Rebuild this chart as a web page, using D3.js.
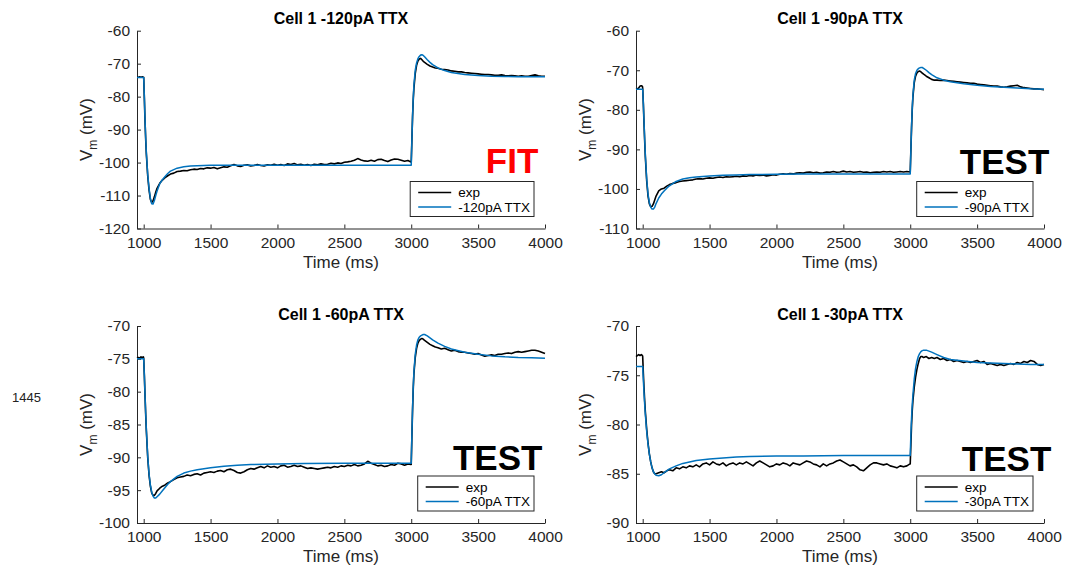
<!DOCTYPE html>
<html><head><meta charset="utf-8">
<script src="https://cdn.jsdelivr.net/npm/d3@7"></script>
<style>
html,body{margin:0;padding:0;background:#fff;}
svg{display:block;font-family:"Liberation Sans",Arial,Helvetica,sans-serif;}
</style></head>
<body>
<svg id="chart" width="1069" height="567"></svg>
<script>
// ---------- DATA ----------
const xTicks = [1000, 1500, 2000, 2500, 3000, 3500, 4000];
const xDomain = [950, 4000];
const yTicks120 = [-120, -110, -100, -90, -80, -70, -60];
const yTicks90 = [-110, -100, -90, -80, -70, -60];
const yTicks60 = [-100, -95, -90, -85, -80, -75, -70];
const yTicks30 = [-90, -85, -80, -75, -70];

const titles = ["Cell 1 -120pA TTX", "Cell 1 -90pA TTX", "Cell 1 -60pA TTX", "Cell 1 -30pA TTX"];
const seriesNames = ["-120pA TTX", "-90pA TTX", "-60pA TTX", "-30pA TTX"];
const tags = ["FIT", "TEST", "TEST", "TEST"];
const sideNote = "1445";

// time samples (ms) of the experimental traces
const tExp = [
 950, 960, 970, 980, 990, 998,
 1000, 1005, 1010, 1015, 1020, 1030, 1040, 1050, 1060, 1070, 1080, 1090, 1100, 1120, 1140, 1160, 1180,
 1200, 1225, 1250, 1275, 1300, 1325, 1350, 1375, 1400, 1425, 1450, 1475, 1500, 1525, 1550, 1575,
 1600, 1625, 1650, 1675, 1700, 1725, 1750, 1775, 1800, 1825, 1850, 1875, 1900, 1925, 1950, 1975,
 2000, 2025, 2050, 2075, 2100, 2125, 2150, 2175, 2200, 2225, 2250, 2275, 2300, 2325, 2350, 2375,
 2400, 2425, 2450, 2475, 2500, 2525, 2550, 2575, 2600, 2625, 2650, 2675, 2700, 2725, 2750, 2775,
 2800, 2825, 2850, 2875, 2900, 2925, 2950, 2975, 2998,
 3000, 3005, 3010, 3015, 3020, 3030, 3040, 3050, 3060, 3070, 3080, 3090, 3100, 3120, 3140, 3160, 3180,
 3200, 3225, 3250, 3275, 3300, 3325, 3350, 3375, 3400, 3425, 3450, 3475, 3500, 3525, 3550, 3575,
 3600, 3625, 3650, 3675, 3700, 3725, 3750, 3775, 3800, 3825, 3850, 3875, 3900, 3925, 3950, 3975, 4000
];

// time samples (ms) of the model traces
const tFit = [
 950, 998, 1000, 1005, 1010, 1015, 1020, 1030, 1040, 1050, 1060, 1070, 1080, 1090, 1100,
 1120, 1140, 1160, 1180, 1200, 1250, 1300, 1350, 1400, 1500, 1600, 1700, 1800,
 2000, 2200, 2500, 2800, 2998,
 3000, 3005, 3010, 3015, 3020, 3030, 3040, 3050, 3060, 3070, 3080, 3090, 3100,
 3120, 3140, 3160, 3200, 3250, 3300, 3400, 3500, 3600, 3700, 3800, 3900, 4000
];

// ---- -120 pA ----
const exp120 = [
 -74.1, -74.1, -74.0, -74.1, -74.0, -74.1,
 -74.1, -80.5, -87.5, -93.0, -97.5, -104.0, -108.3, -111.2, -112.1, -111.6, -110.4, -109.0, -107.8, -106.3, -105.3, -104.6, -104.0,
 -103.5, -103.2, -102.7, -102.6, -102.4, -102.5, -102.2, -102.0, -102.1, -101.8, -101.9, -101.6, -101.7, -101.5, -101.9, -101.6,
 -101.3, -101.4, -101.0, -100.6, -101.0, -101.2, -100.8, -100.7, -101.0, -100.9, -100.6, -100.9, -101.0, -100.7, -100.8, -100.5,
 -100.8, -100.6, -100.9, -100.4, -100.6, -100.3, -100.7, -100.5, -100.8, -100.6, -100.9, -100.5, -100.7, -100.4, -100.6, -100.5,
 -100.2, -100.4, -100.1, -100.3, -99.9, -99.8, -99.6, -99.3, -98.8, -99.2, -99.5, -99.6, -99.3, -99.6, -99.1, -99.0,
 -99.4, -99.7, -99.2, -98.9, -99.0, -99.3, -99.6, -99.4, -99.8,
 -99.8, -93.0, -86.0, -81.0, -77.5, -73.0, -70.5, -69.2, -68.6, -68.4, -68.8, -69.3, -69.6, -70.2, -70.7, -71.0, -71.3,
 -71.4, -71.7, -71.8, -71.9, -72.2, -72.3, -72.5, -72.5, -72.7, -72.8, -72.9, -73.0, -73.1, -73.2, -73.3, -73.3,
 -73.4, -73.5, -73.5, -73.4, -73.6, -73.7, -73.6, -73.7, -73.8, -73.7, -73.8, -73.8, -73.6, -73.4, -73.7, -73.8, -73.8
];
const fit120 = [
 -74.2, -74.2, -74.2, -80.0, -87.0, -92.5, -97.0, -103.5, -107.8, -110.8, -112.5, -112.6, -111.5, -110.0, -108.6,
 -106.4, -105.2, -104.2, -103.3, -102.6, -101.7, -101.3, -101.05, -100.95, -100.85, -100.8, -100.8, -100.8,
 -100.8, -100.8, -100.8, -100.8, -100.8,
 -100.8, -93.0, -86.0, -80.5, -76.5, -72.0, -69.8, -68.5, -67.8, -67.4, -67.3, -67.5, -67.9,
 -68.8, -69.6, -70.3, -71.3, -72.1, -72.7, -73.3, -73.6, -73.8, -73.9, -73.95, -74.0, -74.0
];

// ---- -90 pA ----
const exp90 = [
 -74.8, -74.7, -74.5, -74.0, -73.9, -74.1,
 -74.5, -78.5, -83.5, -88.0, -92.0, -98.0, -101.8, -103.8, -104.5, -104.4, -103.8, -102.8, -101.8, -100.5, -100.0, -99.8, -99.3,
 -98.9, -98.6, -98.4, -98.1, -98.0, -97.9, -97.8, -97.7, -97.5, -97.4, -97.5, -97.3, -97.2, -97.3, -97.1, -97.0,
 -97.1, -96.9, -97.0, -96.9, -96.8, -96.9, -96.7, -96.8, -96.6, -96.7, -96.5, -96.6, -96.5, -96.7, -96.6, -96.4,
 -96.5, -96.3, -96.2, -96.3, -96.1, -96.2, -96.0, -95.9, -96.0, -95.8, -95.7, -95.9, -95.8, -96.0, -95.9, -95.7,
 -95.8, -95.6, -95.8, -95.7, -95.5, -95.7, -95.6, -95.8, -95.7, -95.6, -95.8, -95.7, -95.9, -95.8, -95.7, -95.8,
 -95.6, -95.7, -95.6, -95.8, -95.7, -95.6, -95.7, -95.6, -95.7,
 -95.7, -90.0, -84.5, -80.0, -76.8, -73.2, -71.5, -70.7, -70.3, -70.2, -70.4, -70.7, -71.0, -71.5, -71.9, -72.3, -72.5,
 -72.5, -72.6, -72.5, -72.6, -72.7, -72.8, -72.9, -73.0, -73.1, -73.2, -73.3, -73.3, -73.5, -73.6, -73.7, -73.8,
 -73.9, -74.0, -74.0, -74.2, -74.3, -74.2, -74.0, -73.9, -73.8, -74.2, -74.4, -74.5, -74.6, -74.7, -74.7, -74.8, -74.9
];
const fit90 = [
 -74.8, -74.8, -74.8, -78.5, -83.0, -87.5, -91.5, -97.5, -101.3, -103.5, -104.6, -105.1, -105.1, -104.6, -103.7,
 -102.3, -101.3, -100.5, -99.8, -99.2, -98.1, -97.5, -97.2, -97.0, -96.75, -96.55, -96.45, -96.35,
 -96.3, -96.25, -96.2, -96.2, -96.2,
 -96.2, -90.0, -84.0, -79.5, -76.3, -72.5, -70.8, -70.0, -69.6, -69.4, -69.3, -69.3, -69.5,
 -70.0, -70.6, -71.1, -71.9, -72.5, -72.9, -73.4, -73.8, -74.1, -74.3, -74.5, -74.7, -74.8
];

// ---- -60 pA ----
const exp60 = [
 -74.9, -74.8, -74.9, -74.7, -74.8, -74.7,
 -74.9, -77.5, -80.6, -83.5, -86.0, -90.0, -92.7, -94.4, -95.4, -95.8, -95.8, -95.5, -95.1, -94.7, -94.4, -94.2, -93.9,
 -93.7, -93.4, -93.1, -93.0, -92.9, -92.7, -92.8, -92.6, -92.5, -92.7, -92.4, -92.3, -92.2, -92.3, -92.1, -92.0,
 -92.2, -91.9, -91.8, -92.0, -92.3, -92.4, -92.2, -91.9, -91.7, -91.8, -91.6, -91.4, -91.6, -91.3, -91.5, -91.4,
 -91.6, -91.3, -91.2, -91.5, -91.4, -91.2, -91.4, -91.3, -91.5, -91.7, -91.6, -91.7, -91.8, -91.7, -91.6, -91.5,
 -91.6, -91.4, -91.5, -91.3, -91.4, -91.2, -91.3, -91.1, -91.3, -91.2, -91.0, -90.6, -90.9, -91.1, -91.3, -91.2,
 -91.4, -91.3, -91.1, -91.2, -90.9, -91.0, -91.2, -91.0, -91.1,
 -91.1, -86.8, -82.8, -79.6, -77.3, -74.8, -73.4, -72.6, -72.2, -72.0, -71.9, -72.0, -72.2, -72.5, -72.8, -73.0, -73.2,
 -73.3, -73.5, -73.4, -73.6, -73.8, -73.7, -73.9, -74.0, -74.0, -74.1, -74.2, -74.3, -74.2, -74.4, -74.6, -74.5,
 -74.4, -74.5, -74.3, -74.3, -74.2, -74.1, -74.2, -74.0, -73.9, -74.0, -73.9, -73.8, -73.7, -73.7, -73.8, -74.0, -74.2
];
const fit60 = [
 -75.0, -75.0, -75.0, -77.5, -80.5, -83.3, -85.8, -89.8, -92.5, -94.2, -95.3, -95.9, -96.2, -96.2, -96.0,
 -95.6, -95.1, -94.6, -94.1, -93.7, -92.9, -92.4, -92.1, -91.9, -91.6, -91.35, -91.2, -91.1,
 -91.0, -90.95, -90.9, -90.9, -90.9,
 -90.9, -86.5, -82.5, -79.3, -77.0, -74.3, -72.9, -72.1, -71.7, -71.5, -71.4, -71.3, -71.3,
 -71.5, -71.8, -72.1, -72.6, -73.1, -73.5, -74.0, -74.3, -74.55, -74.7, -74.8, -74.85, -74.9
];

// ---- -30 pA ----
const exp30 = [
 -73.1, -73.0, -72.9, -73.0, -72.9, -73.0,
 -73.1, -74.8, -76.3, -77.6, -78.7, -80.5, -81.9, -83.0, -83.8, -84.4, -84.8, -85.0, -85.0, -84.9, -84.8, -84.9, -84.7,
 -84.6, -84.7, -84.4, -84.5, -84.3, -84.4, -84.2, -84.3, -84.1, -84.3, -84.0, -83.9, -84.1, -83.8, -84.0, -84.1,
 -83.9, -84.2, -84.0, -83.9, -84.1, -83.9, -84.0, -83.8, -84.0, -84.2, -83.9, -83.7, -83.9, -84.1, -84.3, -84.2,
 -84.0, -84.1, -83.9, -84.0, -84.2, -83.9, -84.0, -84.1, -83.9, -83.7, -83.8, -84.0, -84.1, -84.3, -84.0, -84.2,
 -84.0, -83.9, -83.7, -83.6, -83.8, -84.0, -84.2, -84.1, -84.3, -84.6, -84.7, -84.4, -84.1, -83.9, -83.9, -84.0,
 -84.1, -84.0, -84.2, -84.3, -84.4, -84.2, -84.3, -84.2, -84.0,
 -84.0, -82.0, -80.0, -78.6, -77.6, -76.2, -75.2, -74.4, -73.8, -73.3, -73.1, -73.1, -73.2, -73.1, -73.3, -73.2, -73.3,
 -73.2, -73.4, -73.3, -73.5, -73.4, -73.6, -73.5, -73.6, -73.7, -73.6, -73.7, -73.6, -73.5, -73.7, -73.6, -73.9,
 -73.8, -73.9, -74.0, -73.9, -74.0, -73.9, -73.8, -73.9, -73.7, -73.8, -73.6, -73.7, -73.5, -73.6, -73.9, -74.0, -73.9
];
const fit30 = [
 -74.1, -74.1, -74.1, -75.5, -76.8, -78.0, -79.0, -80.7, -82.0, -83.0, -83.8, -84.4, -84.8, -85.0, -85.15,
 -85.2, -85.1, -84.9, -84.7, -84.5, -84.2, -83.95, -83.8, -83.65, -83.5, -83.4, -83.3, -83.25,
 -83.2, -83.2, -83.15, -83.15, -83.15,
 -83.15, -81.0, -79.3, -78.0, -77.0, -75.4, -74.3, -73.6, -73.1, -72.8, -72.6, -72.5, -72.45,
 -72.45, -72.55, -72.65, -72.9, -73.2, -73.4, -73.55, -73.7, -73.75, -73.8, -73.85, -73.9, -73.9
];

// ---------- LAYOUT / STYLE ----------
const expName = "exp";
const colExp = "#000000", colFit = "#0072BD", axisCol = "#262626";
const panels = [
  {title: titles[0], name: seriesNames[0], exp: exp120, fit: fit120, yDom: [-120, -60], yTicks: yTicks120,
   tag: tags[0], tagColor: "#ff0000", tagAt: [3558, -103.1], x0: 137, x1: 545, y0: 30.7, y1: 228.5},
  {title: titles[1], name: seriesNames[1], exp: exp90, fit: fit90, yDom: [-110, -60], yTicks: yTicks90,
   tag: tags[1], tagColor: "#000000", tagAt: [3371, -96.3], x0: 636, x1: 1044, y0: 30.7, y1: 228.5},
  {title: titles[2], name: seriesNames[2], exp: exp60, fit: fit60, yDom: [-100, -70], yTicks: yTicks60,
   tag: tags[2], tagColor: "#000000", tagAt: [3312, -92.0], x0: 137, x1: 545, y0: 326, y1: 523},
  {title: titles[3], name: seriesNames[3], exp: exp30, fit: fit30, yDom: [-90, -70], yTicks: yTicks30,
   tag: tags[3], tagColor: "#000000", tagAt: [3386, -84.7], x0: 636, x1: 1044, y0: 326, y1: 523}
];

const svg = d3.select("#chart");

svg.append("text").attr("x", 12).attr("y", 401.5)
  .attr("font-size", 13).attr("fill", "#222").text(sideNote);

panels.forEach(p => {
  const x = d3.scaleLinear().domain(xDomain).range([p.x0, p.x1]);
  const y = d3.scaleLinear().domain(p.yDom).range([p.y1, p.y0]);
  const g = svg.append("g");

  // axes
  const xa = g.append("g").attr("transform", `translate(0,${p.y1})`)
    .call(d3.axisBottom(x).tickValues(xTicks).tickSizeInner(-4).tickSizeOuter(0).tickPadding(8).tickFormat(d3.format("d")));
  const ya = g.append("g").attr("transform", `translate(${p.x0},0)`)
    .call(d3.axisLeft(y).tickValues(p.yTicks).tickSizeInner(-4).tickSizeOuter(0).tickPadding(7).tickFormat(d => d3.format("d")(d)));
  [xa, ya].forEach(a => {
    a.select(".domain").attr("stroke", axisCol).attr("stroke-width", 1);
    a.selectAll(".tick line").attr("stroke", axisCol).attr("stroke-width", 1);
    a.selectAll(".tick text").attr("fill", axisCol).attr("font-size", 15.5)
      .attr("font-family", '"Liberation Sans",Arial,sans-serif');
  });
  ya.selectAll(".tick text").text(d => d < 0 ? "-" + Math.abs(d) : d);

  // lines
  const lineExp = d3.line().x((d, i) => x(tExp[i])).y(d => y(d));
  const lineFit = d3.line().x((d, i) => x(tFit[i])).y(d => y(d));
  g.append("path").attr("d", lineExp(p.exp)).attr("fill", "none")
    .attr("stroke", colExp).attr("stroke-width", 1.6).attr("stroke-linejoin", "round");
  g.append("path").attr("d", lineFit(p.fit)).attr("fill", "none")
    .attr("stroke", colFit).attr("stroke-width", 1.5).attr("stroke-linejoin", "round");

  // title
  g.append("text").attr("x", (p.x0 + p.x1) / 2).attr("y", p.y0 - 6.5)
    .attr("text-anchor", "middle").attr("font-size", 16).attr("font-weight", "bold")
    .attr("fill", "#000").text(p.title);

  // x label
  g.append("text").attr("x", (p.x0 + p.x1) / 2).attr("y", p.y1 + 39)
    .attr("text-anchor", "middle").attr("font-size", 17).attr("fill", axisCol).text("Time (ms)");

  // y label
  const yl = g.append("text")
    .attr("transform", `translate(${p.x0 - 45},${(p.y0 + p.y1) / 2}) rotate(-90)`)
    .attr("text-anchor", "middle").attr("font-size", 17).attr("fill", axisCol);
  yl.append("tspan").text("V");
  yl.append("tspan").attr("font-size", 12).attr("dy", 5).text("m");
  yl.append("tspan").attr("dy", -5).text(" (mV)");

  // big tag
  g.append("text").attr("x", x(p.tagAt[0])).attr("y", y(p.tagAt[1]))
    .attr("font-size", 35).attr("font-weight", "bold").attr("fill", p.tagColor).text(p.tag);

  // legend
  const lg = g.append("g");
  const rect = lg.append("rect").attr("fill", "#fff").attr("stroke", axisCol).attr("stroke-width", 1);
  const t1 = lg.append("text").attr("font-size", 13.5).attr("fill", "#000").text(expName);
  const t2 = lg.append("text").attr("font-size", 13.5).attr("fill", "#000").text(p.name);
  const tw = Math.max(t1.node().getComputedTextLength(), t2.node().getComputedTextLength());
  const lw = 48 + tw + 4, lh = 35;
  const lx = p.x1 - 11 - lw, ly = p.y1 - 12 - lh;
  rect.attr("x", lx).attr("y", ly).attr("width", lw).attr("height", lh);
  lg.append("line").attr("x1", lx + 8).attr("x2", lx + 41).attr("y1", ly + 11).attr("y2", ly + 11)
    .attr("stroke", colExp).attr("stroke-width", 1.5);
  lg.append("line").attr("x1", lx + 8).attr("x2", lx + 41).attr("y1", ly + 25.5).attr("y2", ly + 25.5)
    .attr("stroke", colFit).attr("stroke-width", 1.5);
  t1.attr("x", lx + 48).attr("y", ly + 15.5);
  t2.attr("x", lx + 48).attr("y", ly + 30);
});
</script>
</body></html>
